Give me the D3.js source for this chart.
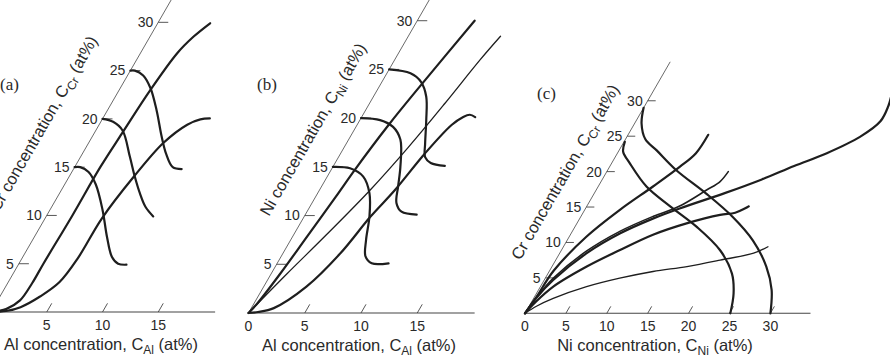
<!DOCTYPE html>
<html>
<head>
<meta charset="utf-8">
<script src="https://cdn.jsdelivr.net/npm/d3@7"></script>
<style>
  body { margin: 0; background: #fff; }
  svg { display: block; }
  text { font-family: "Liberation Sans", Arial, sans-serif; fill: #2a2a2a; }
  .letter { font-family: "Liberation Serif", "Times New Roman", serif; }
</style>
</head>
<body>
<svg id="chart" width="890" height="360"></svg>
<script>
// tick values
const alTicksA = [5, 10, 15]
const crTicksA = [5, 10, 15, 20, 25, 30]
const alTicksB = [0, 5, 10, 15]
const niTicksB = [5, 10, 15, 20, 25, 30]
const niTicksC = [0, 5, 10, 15, 20, 25, 30]
const crTicksC = [5, 10, 15, 20, 25, 30]

// (a) Al-Cr paths, points are [C_Al, C_Cr] in at%
const pathA1 = [[0, 0], [1.2, 0.3], [2.0, 1.2], [2.2, 3], [2.2, 5], [2.3, 10], [2.3, 15], [2.5, 18.5], [2.8, 23], [3.3, 26.8], [3.9, 28.5], [4.7, 29.9]]
const pathA2 = [[0, 0], [1.3, 0.1], [2.4, 0.5], [3.6, 1.6], [4.6, 3.1], [5.0, 5.5], [5.1, 9.7], [5.8, 14], [6.7, 17.5], [7.9, 19.4], [8.8, 19.95], [9.6, 20.05]]
const loopA15 = [[0, 15], [0.5, 15], [1.5, 14.5], [2.8, 13.2], [4.7, 10.6], [6.5, 7.8], [8, 5.7], [8.9, 5], [9.7, 4.9]]
const loopA20 = [[0, 20], [1.1, 19.7], [2.4, 18.8], [4.4, 16.1], [5.9, 14], [7.2, 12.3], [8.4, 10.9], [9.6, 9.9]]
const loopA25 = [[0, 25], [0.4, 25], [1.4, 24.5], [2.7, 23.2], [4.4, 20.9], [6.2, 18.2], [7.5, 16.4], [8.8, 15], [9.7, 14.8]]

// (b) Al-Ni paths, points are [C_Al, C_Ni]
const pathB1 = [[0, 0], [0.3, 1], [0.8, 4], [1.3, 8], [1.8, 12], [2.1, 14.7], [2.8, 19.3], [3.7, 23.7], [5.1, 30]]
const pathB2 = [[0, 0], [1.4, 4], [2.9, 8], [4.5, 12.6], [5.7, 17], [6.7, 21.5], [7.6, 26], [8.2, 28.4]]
const pathB3 = [[0, 0], [0.8, 0.1], [2.0, 0.5], [3.8, 2.7], [5.1, 6.1], [5.9, 9.9], [6.7, 12.6], [7.5, 16.4], [8.4, 19.3], [9.0, 20.1], [9.5, 20.35], [10.1, 20.1]]
const loopB15 = [[0, 15], [1.6, 14.85], [3.2, 14], [4.6, 12.3], [5.8, 9.9], [6.7, 7.5], [7.5, 5.8], [8.4, 5.1], [9.9, 5.1]]
const loopB20 = [[0, 20], [1.8, 19.8], [3.3, 19.1], [4.6, 17.8], [6.0, 15], [6.8, 13], [7.5, 11.3], [8.4, 10.4], [9.9, 10.1]]
const loopB25 = [[0, 25], [2.1, 24.6], [3.5, 23.7], [4.7, 22.2], [5.9, 19.8], [7.0, 17.4], [7.7, 16], [8.5, 15.4], [9.9, 15.1]]

// (c) Ni-Cr paths, points are [C_Ni, C_Cr]
const loopC25 = [[0.1, 24.2], [0.6, 22.8], [2.2, 21.2], [5.9, 17.9], [10.2, 15.1], [14.9, 12.2], [19.4, 8.9], [22.5, 5.6], [24.1, 2.8], [25.1, 0]]
const loopC30 = [[0, 29], [0.85, 26.8], [2.4, 24.6], [4.6, 23.0], [8.4, 20.2], [13.7, 16.9], [18.6, 13.6], [22.7, 10.3], [26.2, 6.6], [28.5, 3.3], [30, 0]]
const rayC1 = [[0, 0], [0.25, 2.3], [0.5, 6.0], [2.1, 10.8], [4.3, 14.6], [6.7, 17.9], [8.6, 20.7], [9.6, 22.6], [9.8, 25.2]]
const rayC2 = [[0, 0], [0.3, 2.3], [1.0, 5.0], [3.15, 8.8], [5.85, 11.6], [8.85, 13.7], [11.3, 15.1], [13.5, 17.4], [14.55, 18.6], [14.85, 20]]
const rayC3 = [[0, 0], [0.3, 2.2], [1.1, 4.7], [3.3, 8.5], [6.0, 11.3], [9.0, 13.4], [11.5, 14.8], [16, 17], [19.5, 18.9], [22.5, 20.8], [25.6, 22.6], [28.5, 24.9], [29.9, 27.1], [29.8, 29.2], [29.4, 30.8]]
const rayC4 = [[0, 0], [0.5, 1.6], [1.6, 3.8], [4.25, 6.6], [7.1, 8.9], [10.1, 11.1], [13.4, 12.7], [16.9, 13.9], [18.6, 14.2], [19.8, 15.1]]
const rayC5 = [[0, 0], [0.9, 1], [2.4, 2.1], [5.65, 3.75], [9.1, 4.95], [12.7, 5.9], [16.5, 6.6], [20.1, 7.5], [23.7, 8.5], [25.0, 9.4]]

const SIN60 = Math.sin(Math.PI / 3)
const THICK = 2.2
const THIN = 1.3

const panels = [
  {
    ox: -9, oy: 312, unit: 11.15, aMax: 20.1, cMax: 33, tick: 10,
    hTicks: alTicksA, oTicks: crTicksA,
    hTitle: ['Al concentration, C', 'Al'], hTitleX: 101,
    oTitle: ['Cr concentration, C', 'Cr'], oTitleC: 17, oTitleOff: 49,
    letter: '(a)', letterPos: [0, 90],
    curves: [[pathA1, THICK], [pathA2, THICK], [loopA15, THICK], [loopA20, THICK], [loopA25, THICK]]
  },
  {
    ox: 248.5, oy: 313, unit: 11.25, aMax: 20.1, cMax: 32.5, tick: 10,
    hTicks: alTicksB, oTicks: niTicksB,
    hTitle: ['Al concentration, C', 'Al'], hTitleX: 359,
    oTitle: ['Ni concentration, C', 'Ni'], oTitleC: 17, oTitleOff: 36,
    letter: '(b)', letterPos: [257, 90],
    curves: [[pathB1, THICK], [pathB2, THIN], [pathB3, THICK], [loopB15, THICK], [loopB20, THICK], [loopB25, THICK]]
  },
  {
    ox: 525, oy: 313.3, unit: 8.18, aMax: 34.9, cMax: 35.5, tick: 8,
    hTicks: niTicksC, oTicks: crTicksC,
    hTitle: ['Ni concentration, C', 'Ni'], hTitleX: 655,
    oTitle: ['Cr concentration, C', 'Cr'], oTitleC: 17.4, oTitleOff: 36,
    letter: '(c)', letterPos: [537, 99],
    curves: [[loopC25, THICK], [loopC30, THICK], [rayC1, THICK], [rayC2, 1.6], [rayC3, THICK], [rayC4, THICK], [rayC5, THIN]]
  }
]

const svg = d3.select('#chart')

panels.forEach(p => {
  const g = svg.append('g')

  // oblique (60 degree) coordinates: a along the base, c along the slanted axis
  const x = d3.scaleLinear().domain([0, p.aMax]).range([p.ox, p.ox + p.aMax * p.unit])
  const y = d3.scaleLinear().domain([0, p.cMax]).range([p.oy, p.oy - p.cMax * p.unit * SIN60])
  const pt = (a, c) => [x(a + c / 2), y(c)]
  const t = p.tick / p.unit

  const axes = g.append('g').attr('stroke', '#444').attr('fill', 'none')

  axes.append('line')
    .attr('x1', pt(0, 0)[0]).attr('y1', pt(0, 0)[1])
    .attr('x2', pt(p.aMax, 0)[0]).attr('y2', pt(p.aMax, 0)[1])
    .attr('stroke-width', 1.1)

  axes.append('line')
    .attr('x1', pt(0, 0)[0]).attr('y1', pt(0, 0)[1])
    .attr('x2', pt(0, p.cMax)[0]).attr('y2', pt(0, p.cMax)[1])
    .attr('stroke-width', 0.8)

  axes.selectAll('line.htick')
    .data(p.hTicks.filter(v => v > 0))
    .join('line')
    .attr('class', 'htick')
    .attr('x1', v => pt(v, 0)[0]).attr('y1', v => pt(v, 0)[1])
    .attr('x2', v => pt(v, t)[0]).attr('y2', v => pt(v, t)[1])
    .attr('stroke-width', 0.9)

  axes.selectAll('line.otick')
    .data(p.oTicks)
    .join('line')
    .attr('class', 'otick')
    .attr('x1', v => pt(0, v)[0]).attr('y1', v => pt(0, v)[1])
    .attr('x2', v => pt(t, v)[0]).attr('y2', v => pt(t, v)[1])
    .attr('stroke-width', 0.9)

  g.selectAll('text.hlabel')
    .data(p.hTicks)
    .join('text')
    .attr('class', 'hlabel')
    .attr('x', v => pt(v, 0)[0])
    .attr('y', p.oy + 18)
    .attr('text-anchor', 'middle')
    .attr('font-size', 14)
    .text(v => v)

  g.selectAll('text.olabel')
    .data(p.oTicks)
    .join('text')
    .attr('class', 'olabel')
    .attr('x', v => pt(0, v)[0] - 5)
    .attr('y', v => pt(0, v)[1])
    .attr('dy', '0.35em')
    .attr('text-anchor', 'end')
    .attr('font-size', 14)
    .text(v => v)

  const line = d3.line()
    .x(d => pt(d[0], d[1])[0])
    .y(d => pt(d[0], d[1])[1])
    .curve(d3.curveCatmullRom.alpha(0.5))

  g.append('g')
    .attr('fill', 'none')
    .attr('stroke', '#1e1e1e')
    .attr('stroke-linecap', 'round')
    .attr('stroke-linejoin', 'round')
    .selectAll('path')
    .data(p.curves)
    .join('path')
    .attr('d', d => line(d[0]))
    .attr('stroke-width', d => d[1])

  // base axis title
  const ht = g.append('text')
    .attr('x', p.hTitleX)
    .attr('y', p.oy + 37.5)
    .attr('text-anchor', 'middle')
    .attr('font-size', 16.5)
  ht.append('tspan').text(p.hTitle[0])
  ht.append('tspan').attr('font-size', 12).attr('dy', 4).text(p.hTitle[1])
  ht.append('tspan').attr('dy', -4).text(' (at%)')

  // slanted axis title, parallel to the slanted axis
  const [cx, cy] = pt(0, p.oTitleC)
  const tx = cx - p.oTitleOff * SIN60
  const ty = cy - p.oTitleOff * 0.5
  const ot = g.append('text')
    .attr('transform', `translate(${tx},${ty}) rotate(-60)`)
    .attr('text-anchor', 'middle')
    .attr('dy', '0.35em')
    .attr('font-size', 16.5)
  ot.append('tspan').text(p.oTitle[0])
  ot.append('tspan').attr('font-size', 12).attr('dy', 4).text(p.oTitle[1])
  ot.append('tspan').attr('dy', -4).text(' (at%)')

  g.append('text')
    .attr('class', 'letter')
    .attr('x', p.letterPos[0])
    .attr('y', p.letterPos[1])
    .attr('font-size', 17)
    .text(p.letter)
})
</script>
</body>
</html>
